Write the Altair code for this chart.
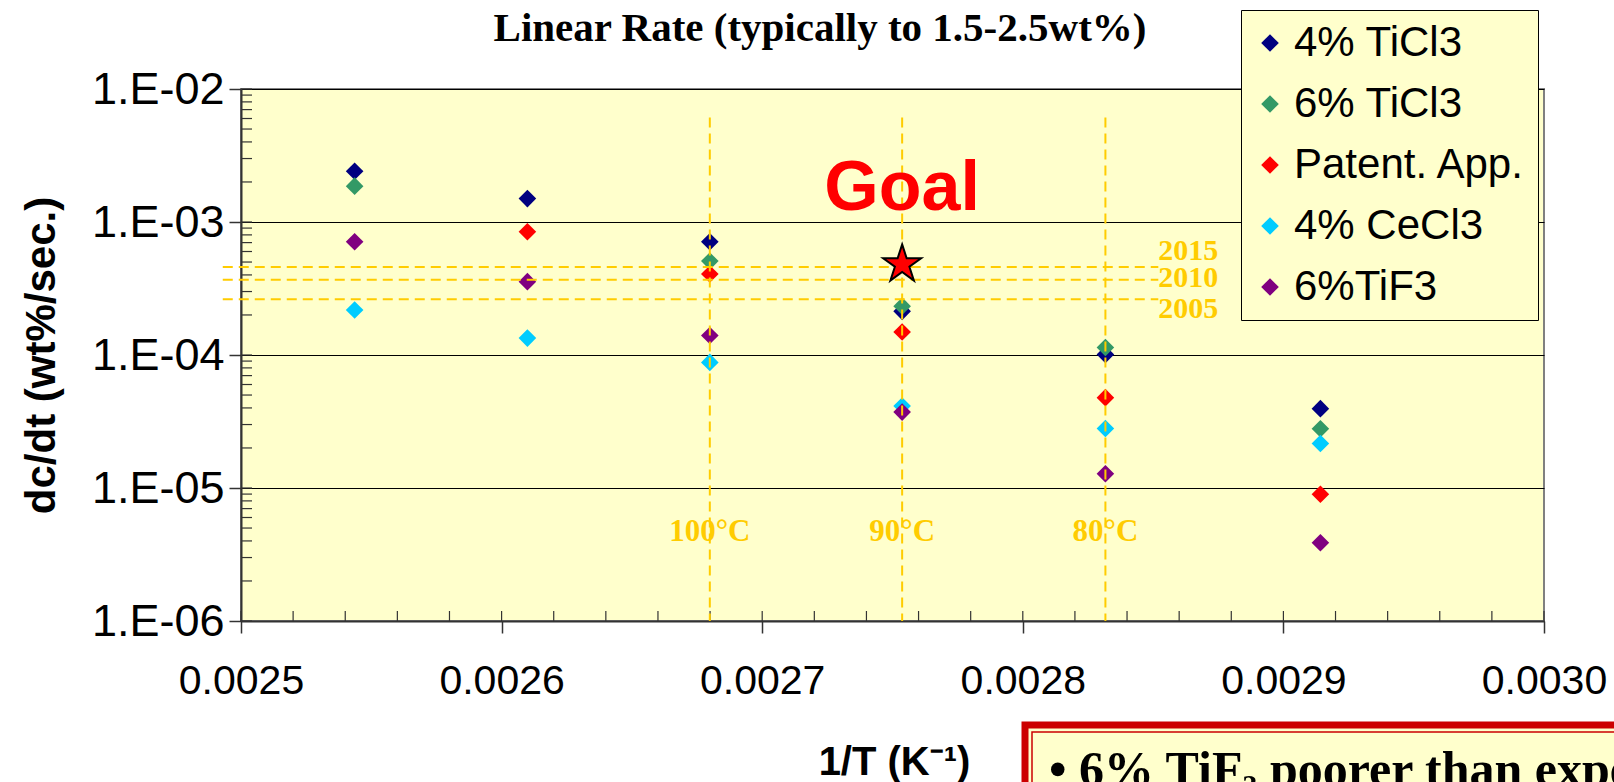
import altair as alt
import pandas as pd

# ---------------- data ----------------
series_names = ["4% TiCl3", "6% TiCl3", "Patent. App.", "4% CeCl3", "6%TiF3"]
series_colors = ["#000080", "#339966", "#FF0000", "#00CCFF", "#800080"]

inv_T = [0.0025436, 0.0026099, 0.0026799, 0.0027537, 0.0028317, 0.0029142]
rate_4_ticl3 = [2.41e-3, 1.50e-3, 7.1e-4, 2.13e-4, 1.01e-4, 3.95e-5]
rate_6_ticl3 = [1.86e-3, None, 5.08e-4, 2.33e-4, 1.14e-4, 2.79e-5]
rate_patent = [None, 8.45e-4, 4.06e-4, 1.49e-4, 4.78e-5, 8.98e-6]
rate_4_cecl3 = [2.18e-4, 1.34e-4, 8.8e-5, 4.14e-5, 2.80e-5, 2.16e-5]
rate_6_tif3 = [7.1e-4, 3.56e-4, 1.40e-4, 3.72e-5, 1.28e-5, 3.88e-6]
all_rates = [rate_4_ticl3, rate_6_ticl3, rate_patent, rate_4_cecl3, rate_6_tif3]

temp_lines_x = [0.0026799, 0.0027537, 0.0028317]
temp_labels = ["100°C", "90°C", "80°C"]
temp_line_top = 6.1e-3
temp_line_bottom = 1e-6
temp_label_y = 4.7e-6

target_years = ["2015", "2010", "2005"]
target_rates = [4.58e-4, 3.68e-4, 2.62e-4]
target_label_y = [6.04e-4, 3.81e-4, 2.23e-4]
target_line_start = 0.002493
target_line_end = 0.002852

goal_x = 0.0027537
goal_rate = 4.8e-4
goal_text_y = 1.76e-3

x_ticks = [0.0025, 0.0026, 0.0027, 0.0028, 0.0029, 0.0030]
y_ticks = [1e-6, 1e-5, 1e-4, 1e-3, 1e-2]
x_minor = [round(0.0025 + i * 0.00002, 5) for i in range(26)]
y_minor = [k * 10.0 ** e for e in range(-6, -2) for k in range(1, 10)] + [1e-2]

title_text = "Linear Rate (typically to 1.5-2.5wt%)"
y_title = "dc/dt (wt%/sec.)"
x_title = "1/T (K⁻¹)"
note_text = "• 6% TiF₃ poorer than expected"

# five-pointed star outline used as a custom symbol shape
STAR_PATH = ("M0,-1L0.2245,-0.309L0.951,-0.309L0.363,0.118L0.588,0.809L0,0.382"
             "L-0.588,0.809L-0.363,0.118L-0.951,-0.309L-0.2245,-0.309Z")

# ---------------- tables ----------------
rows = []
idx = 0
for name, vals in zip(series_names, all_rates):
    for xv, yv in zip(inv_T, vals):
        if yv is not None:
            rows.append({"series": name, "x": xv, "rate": yv, "idx": idx})
            idx += 1
points_df = pd.DataFrame(rows)

vlines_df = pd.DataFrame({"x": temp_lines_x, "y": [temp_line_top] * 3,
                          "y2": [temp_line_bottom] * 3, "label": temp_labels,
                          "ly": [temp_label_y] * 3})
hlines_df = pd.DataFrame({"y": target_rates, "x": [target_line_start] * 3,
                          "x2": [target_line_end] * 3, "label": target_years,
                          "ly": target_label_y})
goal_df = pd.DataFrame({"x": [goal_x], "rate": [goal_rate], "ty": [goal_text_y], "t": ["Goal"]})
xminor_df = pd.DataFrame({"x": x_minor})
yminor_df = pd.DataFrame({"y": y_minor})
title_df = pd.DataFrame({"t": [title_text]})
note_df = pd.DataFrame({"t": [note_text]})

# ---------------- scales / axes ----------------
W, H = 1303, 532
x_scale = alt.Scale(domain=[0.0025, 0.0030], nice=False, zero=False)
y_scale = alt.Scale(type="log", domain=[1e-6, 1e-2], nice=False)

x_axis = alt.Axis(values=x_ticks, format=".4f", tickSize=12, tickColor="#333333",
                  tickWidth=1.5, domainColor="#333333", domainWidth=2, grid=False,
                  labelFont="Liberation Sans", labelFontSize=41, labelColor="#000000",
                  labelPadding=28, labelFlush=False, labelOverlap=False,
                  title=x_title, titleFont="Liberation Sans", titleFontWeight="bold",
                  titleFontSize=40, titleColor="#000000", titleX=653, titleY=141,
                  titleAlign="center", titleBaseline="middle")
y_axis = alt.Axis(values=y_ticks,
                  labelExpr="'1.E-0' + format(-log(datum.value) / LN10, '.0f')",
                  tickSize=12, tickColor="#333333", tickWidth=1.5,
                  domainColor="#333333", domainWidth=2, grid=True,
                  gridColor="#000000", gridWidth=1.2,
                  labelFont="Liberation Sans", labelFontSize=45, labelColor="#000000",
                  labelPadding=5, labelFlush=False, labelOverlap=False,
                  title=y_title, titleFont="Liberation Sans", titleFontWeight="bold",
                  titleFontSize=42, titleColor="#000000", titleX=-200, titleY=266,
                  titleAngle=270, titleAlign="center", titleBaseline="middle")


def X(field):
    return alt.X(field, scale=x_scale, axis=x_axis)


def Y(field):
    return alt.Y(field, scale=y_scale, axis=y_axis)


legend = alt.Legend(orient="none", legendX=1000, legendY=-79, title=None,
                    fillColor="#FFFFCC", strokeColor="#000000", padding=12,
                    symbolType="diamond", symbolSize=310, symbolStrokeWidth=0,
                    symbolOffset=-4,
                    labelFont="Liberation Sans", labelFontSize=42, labelColor="#000000",
                    labelLimit=400, labelOffset=3, rowPadding=19)

# ---------------- layers ----------------
points = alt.Chart(points_df).mark_point(shape="diamond", filled=True, size=310,
                                         opacity=1, strokeWidth=0).encode(
    x=X("x:Q"), y=Y("rate:Q"),
    color=alt.Color("series:N", scale=alt.Scale(domain=series_names, range=series_colors),
                    legend=legend),
    order=alt.Order("idx:Q"))

yminor = alt.Chart(yminor_df).mark_rule(color="#333333", strokeWidth=1.2).encode(
    y=Y("y:Q"), x=alt.value(0), x2=alt.value(11))
xminor = alt.Chart(xminor_df).mark_rule(color="#333333", strokeWidth=1.2).encode(
    x=X("x:Q"), y=alt.value(H - 10), y2=alt.value(H))

vlines = alt.Chart(vlines_df).mark_rule(color="#FFCC00", strokeWidth=2,
                                        strokeDash=[10, 6]).encode(
    x=X("x:Q"), y=Y("y:Q"), y2="y2:Q")
vlabels = alt.Chart(vlines_df).mark_text(font="Liberation Serif", fontWeight="bold",
                                         fontSize=31, color="#FFCC00", align="center",
                                         baseline="middle").encode(
    x=X("x:Q"), y=Y("ly:Q"), text="label:N")

hlines = alt.Chart(hlines_df).mark_rule(color="#FFCC00", strokeWidth=2,
                                        strokeDash=[10, 6]).encode(
    y=Y("y:Q"), x=X("x:Q"), x2="x2:Q")
hlabels = alt.Chart(hlines_df).mark_text(font="Liberation Serif", fontWeight="bold",
                                         fontSize=30, color="#FFCC00", align="left",
                                         baseline="middle").encode(
    x=X("x2:Q"), y=Y("ly:Q"), text="label:N")

goal_text = alt.Chart(goal_df).mark_text(font="Liberation Sans", fontWeight="bold",
                                         fontSize=70, color="#FF0000", align="center",
                                         baseline="middle").encode(
    x=X("x:Q"), y=Y("ty:Q"), text="t:N")
star = alt.Chart(goal_df).mark_point(shape=STAR_PATH, filled=True, size=1600,
                                     fill="#FF0000", stroke="#000000", strokeWidth=2,
                                     opacity=1).encode(
    x=X("x:Q"), y=Y("rate:Q"))

title = alt.Chart(title_df).mark_text(font="Liberation Serif", fontWeight="bold",
                                      fontSize=41, color="#000000", align="center",
                                      baseline="middle").encode(
    x=alt.value(579), y=alt.value(-60), text="t:N")

box_outer = alt.Chart(note_df).mark_rect(fill="#FFFFCC", stroke="#CC0000",
                                         strokeWidth=7).encode(
    x=alt.value(784), x2=alt.value(1420), y=alt.value(636), y2=alt.value(760))
box_inner = alt.Chart(note_df).mark_rect(fill="#FFFFCC", stroke="#CC0000",
                                         strokeWidth=1.5).encode(
    x=alt.value(791), x2=alt.value(1420), y=alt.value(643), y2=alt.value(760))
note = alt.Chart(note_df).mark_text(font="Liberation Serif", fontWeight="bold",
                                    fontSize=50, color="#000000", align="left",
                                    baseline="alphabetic").encode(
    x=alt.value(808), y=alt.value(697), text="t:N")

chart = alt.layer(
    points, yminor, xminor, vlines, hlines, vlabels, hlabels, goal_text, star,
    title, box_outer, box_inner, note
).properties(
    width=W, height=H,
    autosize=alt.AutoSizeParams(type="none"),
    padding={"left": 241, "top": 89, "right": 70, "bottom": 161},
    background="#FFFFFF",
).configure_view(fill="#FFFFCC", stroke="#808080", strokeWidth=2)

chart.save("out.html", embed_options={"renderer": "svg", "actions": False})
